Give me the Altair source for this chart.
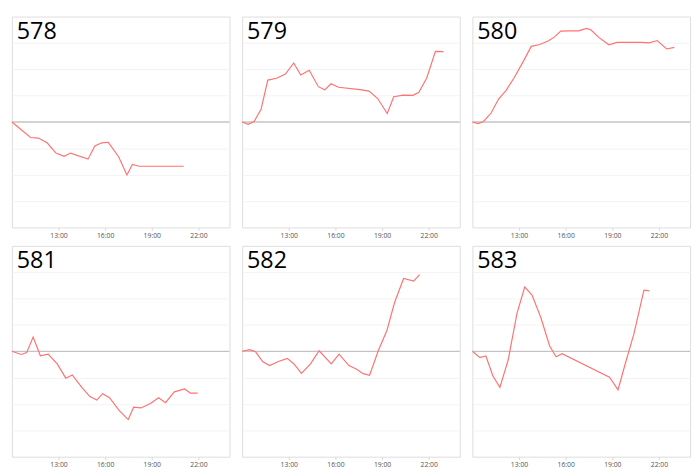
import altair as alt
import pandas as pd

names = ["578", "579", "580", "581", "582", "583"]

t578 = ["10:00", "11:12", "11:42", "12:16", "12:50", "13:22", "13:46", "14:54", "15:20", "15:47",
        "16:12", "16:52", "17:24", "17:45", "18:12", "21:03"]
v578 = [0, -0.59, -0.61, -0.79, -1.18, -1.30, -1.18, -1.41, -0.91, -0.79,
        -0.77, -1.32, -2.01, -1.61, -1.68, -1.68]

t579 = ["10:00", "10:23", "10:46", "11:13", "11:39", "12:13", "12:47", "13:19", "13:46", "14:19",
        "14:54", "15:19", "15:43", "16:12", "17:35", "18:10", "18:43", "19:20", "19:45", "20:22",
        "20:59", "21:22", "21:52", "22:26", "22:57"]
v579 = [0, -0.09, 0.02, 0.48, 1.59, 1.66, 1.82, 2.24, 1.78, 1.96,
        1.34, 1.22, 1.45, 1.32, 1.23, 1.17, 0.89, 0.32, 0.96, 1.02,
        1.01, 1.13, 1.66, 2.68, 2.67]

t580 = ["10:00", "10:22", "10:43", "11:12", "11:41", "12:10", "12:41", "13:16", "13:47", "14:20",
        "14:52", "15:16", "15:41", "16:10", "16:49", "17:20", "17:38", "18:10", "18:47", "19:18",
        "19:55", "20:51", "21:22", "21:53", "22:30", "22:59"]
v580 = [0, -0.06, 0.02, 0.34, 0.87, 1.20, 1.68, 2.29, 2.87, 2.94,
        3.07, 3.22, 3.45, 3.46, 3.46, 3.55, 3.49, 3.19, 2.93, 3.02,
        3.02, 3.02, 3.00, 3.09, 2.77, 2.83]

t581 = ["10:00", "10:36", "10:57", "11:22", "11:50", "12:20", "12:55", "13:28", "13:53", "14:30",
        "15:01", "15:28", "15:50", "16:17", "16:52", "17:29", "17:50", "18:18", "18:55", "19:26",
        "19:53", "20:27", "21:07", "21:29", "21:57"]
v581 = [0, -0.12, -0.05, 0.54, -0.17, -0.11, -0.48, -1.02, -0.90, -1.37,
        -1.72, -1.85, -1.61, -1.76, -2.22, -2.59, -2.12, -2.15, -1.98, -1.76,
        -1.95, -1.54, -1.43, -1.59, -1.59]

t582 = ["10:00", "10:29", "10:52", "11:19", "11:46", "12:20", "12:54", "13:20", "13:49", "14:24",
        "14:57", "15:44", "16:14", "16:52", "17:22", "17:47", "18:12", "18:45", "19:19", "19:48",
        "20:23", "21:02", "21:25"]
v582 = [0, 0.06, -0.02, -0.39, -0.54, -0.39, -0.27, -0.48, -0.84, -0.48,
        0.02, -0.48, -0.11, -0.54, -0.68, -0.85, -0.91, 0.01, 0.80, 1.84,
        2.76, 2.66, 2.91]

t583 = ["10:00", "10:29", "10:52", "11:19", "11:46", "12:18", "12:52", "13:22", "13:50", "14:24",
        "14:58", "15:23", "15:46", "18:49", "19:22", "19:54", "20:23", "21:02", "21:23"]
v583 = [0, -0.24, -0.18, -0.94, -1.37, -0.33, 1.44, 2.44, 2.13, 1.28,
        0.20, -0.21, -0.09, -0.98, -1.46, -0.33, 0.65, 2.32, 2.29]

x_ticks = [13, 16, 19, 22]
y_grid = [-3, -2, -1, 1, 2, 3]

series = [(t578, v578), (t579, v579), (t580, v580), (t581, v581), (t582, v582), (t583, v583)]


def hours(s):
    h, m = s.split(":")
    return int(h) + int(m) / 60.0


def panel(name, times, vals):
    df = pd.DataFrame({"t": [hours(s) for s in times], "v": vals})
    xenc = alt.X(
        "t:Q",
        scale=alt.Scale(domain=[10, 24], nice=False, zero=False),
        axis=alt.Axis(values=x_ticks, labelExpr="datum.value + ':00'", title=None,
                      grid=False, domain=False, tickSize=3, tickColor="#d8d8d8",
                      labelFontSize=7, labelColor="#555555", labelPadding=1,
                      labelFont="Open Sans"),
    )
    yenc = alt.Y(
        "v:Q",
        scale=alt.Scale(domain=[-4, 4], nice=False),
        axis=alt.Axis(values=y_grid, title=None, labels=False, ticks=False,
                      domain=False, grid=True, gridColor="#f3f3f3"),
    )
    zero = alt.Chart(pd.DataFrame({"v": [0]})).mark_rule(
        color="#c4c4c4", strokeWidth=1.3
    ).encode(y=yenc)
    line = alt.Chart(df).mark_line(color="#ff7272", strokeWidth=1.2).encode(x=xenc, y=yenc)
    label = alt.Chart(pd.DataFrame({"n": [name]})).mark_text(
        align="left", baseline="alphabetic", fontSize=24, font="Open Sans", color="#000000"
    ).encode(x=alt.value(5), y=alt.value(23), text="n:N")
    return alt.layer(zero, line, label).properties(width=224, height=217)


panels = [panel(n, t, v) for n, (t, v) in zip(names, series)]

row1 = alt.hconcat(*panels[:3], spacing=8)
row2 = alt.hconcat(*panels[3:], spacing=8)

chart = alt.vconcat(row1, row2, spacing=6).properties(
    padding={"left": 1, "top": 1, "right": 0, "bottom": 0}
).configure_view(stroke="#dddddd", strokeWidth=1)

chart.save("out.html", embed_options={"renderer": "svg", "actions": False})
